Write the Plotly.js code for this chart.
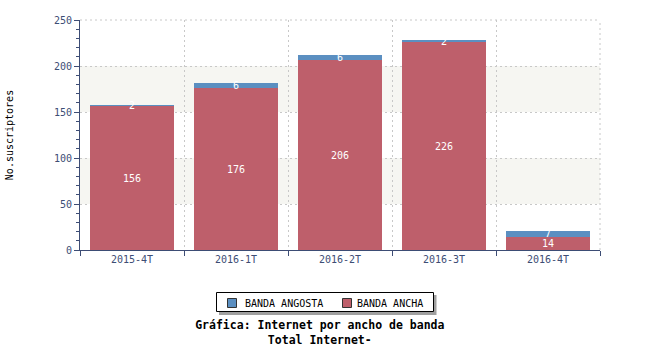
<!DOCTYPE html>
<html>
<head>
<meta charset="utf-8">
<script src="https://cdn.plot.ly/plotly-3.0.1.min.js"></script>
<style>html,body{margin:0;padding:0;background:#fff;}#chart{width:650px;height:350px;}</style>
</head>
<body>
<div id="chart"></div>
<script>
var categories = ['2015-4T', '2016-1T', '2016-2T', '2016-3T', '2016-4T'];
var bandaAncha = [156, 176, 206, 226, 14];
var bandaAngosta = [2, 6, 6, 2, 7];
var seriesNames = ['BANDA ANGOSTA', 'BANDA ANCHA'];
var yTicks = [0, 50, 100, 150, 200, 250];

var mono = 'DejaVu Sans Mono, monospace';
var axisColor = '#3d4d75';
var gridColor = '#c8c8c8';
var blue = '#5b8fc1';
var red = '#be5f6b';

var traces = [
  {
    type: 'bar', name: seriesNames[1], x: categories, y: bandaAncha,
    marker: {color: red, line: {width: 0}},
    text: bandaAncha.map(String), textposition: 'inside', insidetextanchor: 'middle',
    textangle: 0, constraintext: 'none', textfont: {family: mono, size: 10, color: '#ffffff'},
    hoverinfo: 'none'
  },
  {
    type: 'bar', name: seriesNames[0], x: categories, y: bandaAngosta,
    marker: {color: blue, line: {width: 0}},
    text: bandaAngosta.map(String), textposition: 'inside', insidetextanchor: 'middle',
    textangle: 0, constraintext: 'none', textfont: {family: mono, size: 10, color: '#ffffff'},
    hoverinfo: 'none'
  }
];

function px2paperX(p) { return (p - 80) / 520; }
function px2paperY(p) { return (250 - p) / 230; }

function rect(x0, y0, x1, y1, fill, lineColor) {
  return {type: 'rect', xref: 'paper', yref: 'paper',
    x0: px2paperX(x0), x1: px2paperX(x1), y0: px2paperY(y1), y1: px2paperY(y0),
    fillcolor: fill, line: lineColor ? {color: lineColor, width: 1} : {width: 0}, layer: 'above'};
}

var legendShapes = [
  rect(219, 295, 436.5, 315, '#a0a0a0'),
  rect(216.5, 292.5, 433.5, 311.5, '#ffffff', '#000000'),
  rect(227.5, 298.5, 236.5, 307.5, blue, '#333333'),
  rect(342.5, 298.5, 351.5, 307.5, red, '#333333')
];
var legendLabels = [
  {text: seriesNames[0], xref: 'paper', yref: 'paper', x: px2paperX(243), y: px2paperY(303),
   xanchor: 'left', yanchor: 'middle', showarrow: false, font: {family: mono, size: 10, color: '#000'}},
  {text: seriesNames[1], xref: 'paper', yref: 'paper', x: px2paperX(355), y: px2paperY(303),
   xanchor: 'left', yanchor: 'middle', showarrow: false, font: {family: mono, size: 10, color: '#000'}}
];

var layout = {
  width: 650, height: 350,
  margin: {l: 80, r: 50, t: 20, b: 100},
  paper_bgcolor: '#ffffff', plot_bgcolor: '#ffffff',
  barmode: 'stack', bargap: 0.19,
  showlegend: false,
  font: {family: mono, size: 10, color: '#000'},
  title: {
    text: '<b>Gráfica: Internet por ancho de banda</b><br><b>Total Internet-</b>',
    font: {family: mono, size: 11.5, color: '#000'},
    x: 0.492, xanchor: 'center', yref: 'container', y: 1 - 329 / 350, yanchor: 'middle'
  },
  xaxis: {
    type: 'category', tickson: 'boundaries',
    showline: true, linecolor: axisColor, linewidth: 1,
    ticks: 'outside', ticklen: 5, tickcolor: axisColor,
    showgrid: true, gridcolor: gridColor, griddash: '2px,3px', gridwidth: 1,
    tickfont: {family: mono, size: 10, color: axisColor},
    fixedrange: true
  },
  yaxis: {
    range: [0, 250], tickvals: yTicks, ticktext: yTicks.map(String),
    showline: true, linecolor: axisColor, linewidth: 1,
    ticks: 'outside', ticklen: 5, tickcolor: axisColor,
    minor: {dtick: 10, ticks: 'outside', ticklen: 3, tickcolor: axisColor, showgrid: false},
    showgrid: true, gridcolor: gridColor, griddash: '2px,3px', gridwidth: 1,
    zeroline: false,
    tickfont: {family: mono, size: 10, color: axisColor},
    title: {text: 'No.suscriptores', font: {family: mono, size: 10, color: '#000'}, standoff: 38},
    fixedrange: true
  },
  shapes: [
    {type: 'rect', xref: 'paper', yref: 'y', x0: 0, x1: 1, y0: 50, y1: 100, fillcolor: '#f6f6f2', line: {width: 0}, layer: 'below'},
    {type: 'rect', xref: 'paper', yref: 'y', x0: 0, x1: 1, y0: 150, y1: 200, fillcolor: '#f6f6f2', line: {width: 0}, layer: 'below'},
    {type: 'line', xref: 'paper', yref: 'paper', x0: 0, x1: 1, y0: 1, y1: 1, line: {color: gridColor, width: 1, dash: '2px,3px'}, layer: 'below'},
    {type: 'line', xref: 'paper', yref: 'paper', x0: 1, x1: 1, y0: 0, y1: 1, line: {color: gridColor, width: 1, dash: '2px,3px'}, layer: 'below'}
  ].concat(legendShapes),
  annotations: legendLabels
};

Plotly.newPlot('chart', traces, layout, {displayModeBar: false, staticPlot: true});
</script>
</body>
</html>
